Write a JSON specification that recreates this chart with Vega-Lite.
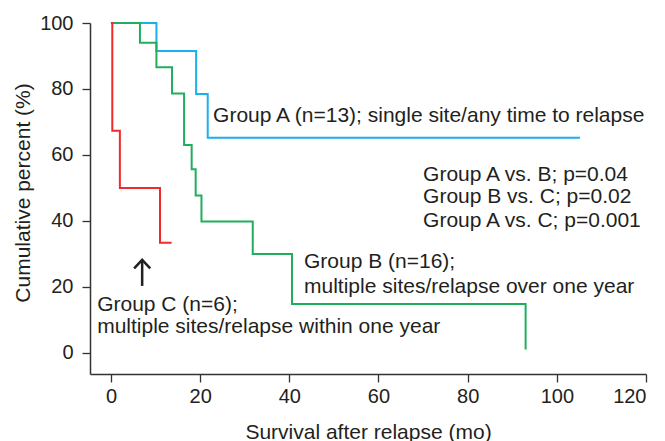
{
  "$schema": "https://vega.github.io/schema/vega-lite/v6.json",
  "width": 556,
  "height": 351,
  "autosize": "none",
  "padding": {"left": 90, "top": 23, "right": 19, "bottom": 67},
  "background": "white",
  "config": {
    "view": {"stroke": null},
    "font": "Liberation Sans",
    "axis": {
      "grid": false,
      "domainColor": "#333333",
      "domainWidth": 1.5,
      "tickColor": "#333333",
      "tickWidth": 1.3,
      "tickSize": 8,
      "labelFont": "Liberation Sans",
      "labelFontSize": 20,
      "labelColor": "#231f20",
      "titleFont": "Liberation Sans",
      "titleFontSize": 21,
      "titleFontWeight": "normal",
      "titleColor": "#231f20"
    }
  },
  "datasets": {
    "curves": [
      {"group": "A", "t": 0, "s": 100},
      {"group": "A", "t": 10.2, "s": 91.5},
      {"group": "A", "t": 19.1, "s": 78.5},
      {"group": "A", "t": 21.7, "s": 65.2},
      {"group": "A", "t": 105.2, "s": 65.2},
      {"group": "B", "t": 0, "s": 100},
      {"group": "B", "t": 6.5, "s": 94.0},
      {"group": "B", "t": 10.2, "s": 86.6},
      {"group": "B", "t": 13.7, "s": 78.6},
      {"group": "B", "t": 16.4, "s": 63.0},
      {"group": "B", "t": 18.1, "s": 55.7},
      {"group": "B", "t": 19.0, "s": 47.7},
      {"group": "B", "t": 20.3, "s": 39.8},
      {"group": "B", "t": 31.8, "s": 30.0},
      {"group": "B", "t": 40.6, "s": 14.8},
      {"group": "B", "t": 93.0, "s": 1},
      {"group": "C", "t": 0, "s": 100},
      {"group": "C", "t": 0.3, "s": 67.3},
      {"group": "C", "t": 2.0, "s": 50.0},
      {"group": "C", "t": 11.0, "s": 33.4},
      {"group": "C", "t": 13.6, "s": 33.4}
    ],
    "labels": [
      {"t": 22.9, "s": 71.8, "text": "Group A (n=13); single site/any time to relapse"},
      {"t": 70.0, "s": 53.9, "text": "Group A vs. B; p=0.04"},
      {"t": 70.0, "s": 47.2, "text": "Group B vs. C; p=0.02"},
      {"t": 70.0, "s": 40.0, "text": "Group A vs. C; p=0.001"},
      {"t": 43.3, "s": 27.4, "text": "Group B (n=16);"},
      {"t": 43.3, "s": 20.1, "text": "multiple sites/relapse over one year"},
      {"t": -3.1, "s": 14.5, "text": "Group C (n=6);"},
      {"t": -3.1, "s": 7.9, "text": "multiple sites/relapse within one year"}
    ],
    "shaft": [
      {"t": 7, "s": 20.3, "s2": 28.0}
    ],
    "head": [
      {"i": 1, "t": 5.2, "s": 25.6},
      {"i": 2, "t": 7, "s": 28.2},
      {"i": 3, "t": 8.8, "s": 25.6}
    ]
  },
  "encoding": {
    "x": {
      "field": "t", "type": "quantitative",
      "scale": {"domain": [-4.7, 120], "nice": false, "zero": false},
      "axis": {"values": [0, 20, 40, 60, 80, 100, 120], "title": "Survival after relapse (mo)", "labelPadding": 4, "titleX": 278, "titleY": 58, "titleBaseline": "middle", "titleAnchor": null}
    },
    "y": {
      "field": "s", "type": "quantitative",
      "scale": {"domain": [-6.4, 100], "nice": false, "zero": false},
      "axis": {"values": [0, 20, 40, 60, 80, 100], "title": "Cumulative percent (%)", "labelPadding": 9, "titleX": -67, "titleY": 169.5, "titleBaseline": "middle", "titleAlign": "center", "titleAngle": -90}
    }
  },
  "layer": [
    {
      "data": {"name": "curves"},
      "mark": {"type": "line", "interpolate": "step-after", "strokeWidth": 2},
      "encoding": {
        "color": {"field": "group", "type": "nominal", "scale": {"domain": ["A", "B", "C"], "range": ["#1ab0ec", "#1fae5b", "#ef2b2d"]}, "legend": null}
      }
    },
    {
      "data": {"name": "labels"},
      "mark": {"type": "text", "align": "left", "baseline": "middle", "fontSize": 21, "font": "Liberation Sans", "color": "#231f20"},
      "encoding": {"text": {"field": "text"}}
    },
    {
      "data": {"name": "shaft"},
      "mark": {"type": "rule", "strokeWidth": 2.5, "color": "#231f20"},
      "encoding": {"y2": {"field": "s2"}}
    },
    {
      "data": {"name": "head"},
      "mark": {"type": "line", "strokeWidth": 2.5, "color": "#231f20"},
      "encoding": {"order": {"field": "i"}}
    }
  ]
}
